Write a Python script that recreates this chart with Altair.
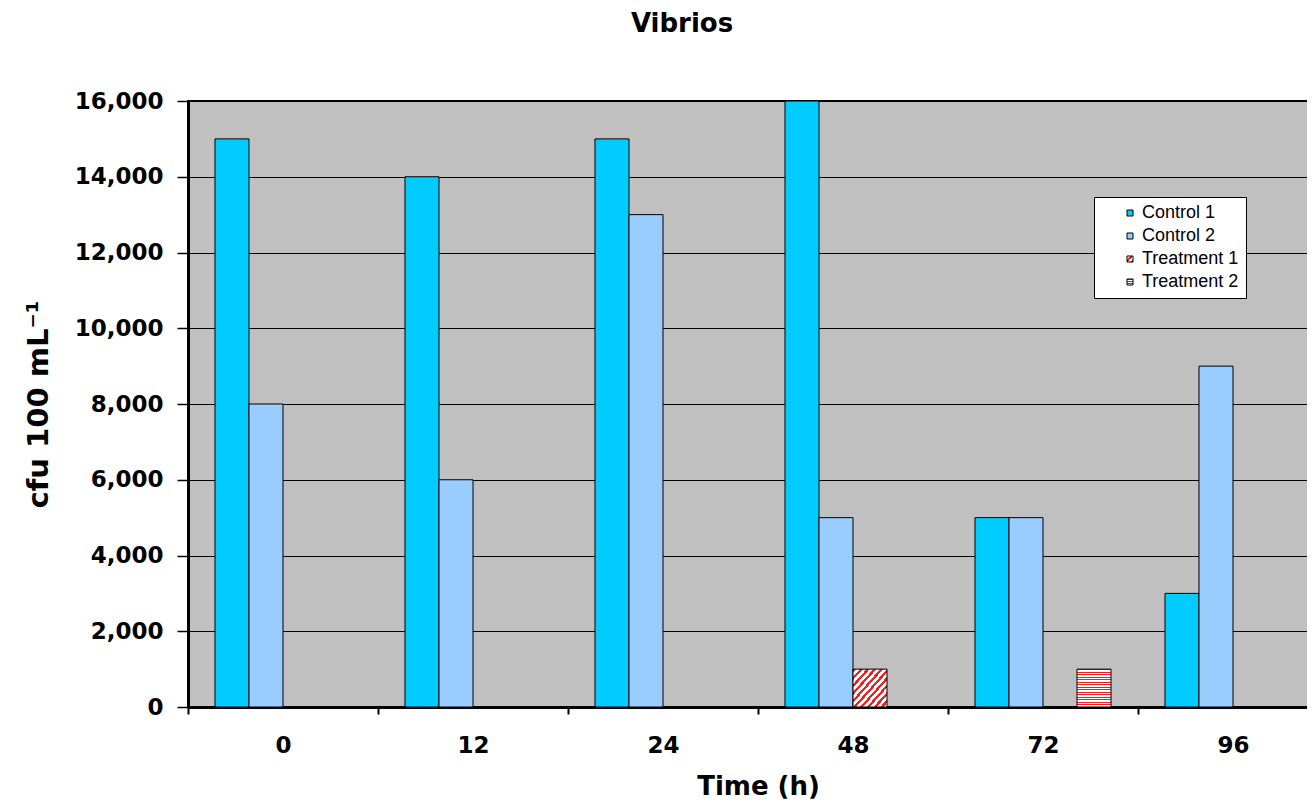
import altair as alt
import pandas as pd

times = ["0", "12", "24", "48", "72", "96"]
series = ["Control 1", "Control 2", "Treatment 1", "Treatment 2"]
control1 = [15000, 14000, 15000, 16000, 5000, 3000]
control2 = [8000, 6000, 13000, 5000, 5000, 9000]
treatment1 = [None, None, None, 1000, None, None]
treatment2 = [None, None, None, None, 1000, None]
y_ticks = [0, 2000, 4000, 6000, 8000, 10000, 12000, 14000, 16000]

rows = []
for name, vals in zip(series, [control1, control2, treatment1, treatment2]):
    for t, v in zip(times, vals):
        if v is not None:
            rows.append({"time": t, "series": name, "value": v})
df = pd.DataFrame(rows)


def stripes(n, x2, y2, color="#ee2020", frac=0.45):
    stops = []
    for i in range(n):
        a = i / n
        b = (i + frac) / n
        c = (i + 1) / n
        stops += [
            "{offset:%.4f,color:'%s'}" % (a, color),
            "{offset:%.4f,color:'%s'}" % (b, color),
            "{offset:%.4f,color:'#ffffff'}" % b,
            "{offset:%.4f,color:'#ffffff'}" % c,
        ]
    return "{gradient:'linear',x1:0,y1:0,x2:%s,y2:%s,stops:[%s]}" % (x2, y2, ",".join(stops))


diag = stripes(10, 1, 1)
horiz = stripes(15, 0, 1, frac=0.4)

FONT = "DejaVu Sans"

chart = alt.Chart(df).mark_bar(stroke="black", strokeWidth=1).encode(
    x=alt.X(
        "time:N",
        sort=times,
        scale=alt.Scale(paddingInner=0, paddingOuter=0),
        axis=alt.Axis(
            title="Time (h)",
            labelAngle=0,
            tickBand="extent",
            tickSize=7,
            tickColor="black",
            tickWidth=2,
            domainColor="black",
            domainWidth=3,
            labelFont=FONT,
            labelFontSize=23,
            labelFontWeight="bold",
            labelColor="black",
            labelPadding=20,
            titleFont=FONT,
            titleFontSize=26,
            titleFontWeight="bold",
            titleColor="black",
            titlePadding=16,
            grid=False,
        ),
    ),
    xOffset=alt.XOffset(
        "series:N",
        scale=alt.Scale(domain=series, paddingInner=0, paddingOuter=0.794),
    ),
    y=alt.Y(
        "value:Q",
        scale=alt.Scale(domain=[0, 16000], nice=False),
        axis=alt.Axis(
            title="cfu 100 mL⁻¹",
            values=y_ticks,
            format=",d",
            grid=True,
            gridColor="black",
            gridWidth=1,
            tickSize=11,
            tickColor="black",
            tickWidth=1.5,
            domainColor="black",
            domainWidth=3,
            labelFont=FONT,
            labelFontSize=23,
            labelFontWeight="bold",
            labelColor="black",
            labelPadding=14,
            titleFont=FONT,
            titleFontSize=29,
            titleFontWeight="bold",
            titleColor="black",
            titlePadding=21,
        ),
    ),
    color=alt.Color(
        "series:N",
        scale=alt.Scale(domain=series, range=["#00ccff", "#99ccff", {"expr": diag}, {"expr": horiz}]),
        legend=alt.Legend(
            title=None,
            orient="none",
            legendX=906,
            legendY=96,
            fillColor="white",
            strokeColor="black",
            padding=7,
            symbolType="square",
            symbolSize=36,
            symbolStrokeColor="black",
            symbolStrokeWidth=1,
            symbolOffset=20,
            labelFont="Liberation Sans",
            labelFontSize=18,
            labelColor="black",
            rowPadding=5,
            labelOffset=3,
        ),
    ),
).properties(
    width=1140,
    height=606,
    title=alt.Title("Vibrios", font=FONT, fontSize=26, fontWeight="bold", color="black", offset=53, dx=-76),
    autosize=alt.AutoSizeParams(type="none"),
    padding={"left": 180, "top": 93, "right": -21, "bottom": 94},
).configure_view(
    fill="#c0c0c0", stroke="black", strokeWidth=2
)

chart.save("out.html", embed_options={"renderer": "svg", "actions": False})
